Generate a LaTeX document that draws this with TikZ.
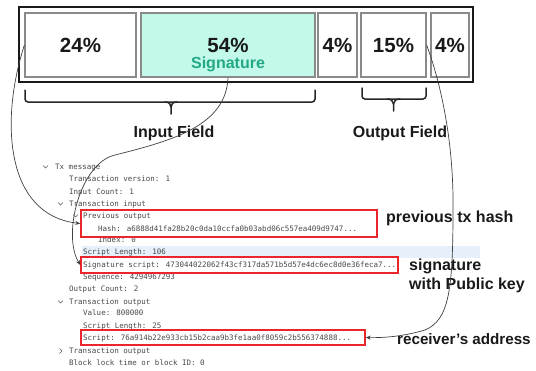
\documentclass[tikz,border=0pt]{standalone}
\usepackage{fontspec}
\setmainfont{Liberation Sans}
\newfontfamily\monof{DejaVu Sans Mono}
\usetikzlibrary{arrows.meta}
\definecolor{mint}{HTML}{C2F9EB}
\definecolor{tealtxt}{HTML}{22A884}
\definecolor{boxgray}{HTML}{8A8A8A}
\definecolor{boxred}{HTML}{E8262B}
\definecolor{hilite}{HTML}{E6F0FA}
\begin{document}
\begin{tikzpicture}[x=1pt,y=-1pt,
  pbox/.style={draw=boxgray, line width=1.2pt, inner sep=0, minimum height=64pt},
  pct/.style={font=\bfseries\fontsize{20.5}{22}\selectfont, text=black!90},
  lbl/.style={font=\bfseries\fontsize{16}{19}\selectfont, text=black!90, inner sep=0},
  mono/.style={font=\monof\fontsize{7.5}{9}\selectfont, text=black!72, anchor=west, inner sep=0, text height=5.6pt, text depth=1.6pt},
  redbox/.style={draw=boxred, line width=1.4pt, inner sep=0},
  link/.style={draw=black!75, line width=0.7pt},
  tip/.style={-{Stealth[length=5pt,width=4pt]}},
  bracepath/.style={draw=black!85, line width=1.5pt, rounded corners=3pt, line cap=round},
  bracetip/.style={draw=black!85, line width=1.5pt, line cap=round},
  chev/.style={draw=black!65, line width=0.6pt}
]
\useasboundingbox (0,0) rectangle (536,370);

% top bar
\node[draw=black!90, line width=1.3pt, minimum width=454pt, minimum height=75pt, inner sep=0] (outer) at (246,44.5) {};
\node[pbox, pct, minimum width=111pt] (b24) at (80.5,45) {24\%};
\node[pbox, fill=mint, minimum width=174pt] (b54) at (228,45) {};
\node[pct] (t54) at (228,45.5) {54\%};
\node[font=\bfseries\fontsize{16}{18}\selectfont, text=tealtxt, inner sep=0] (tsig) at (228,64) {Signature};
\node[pbox, pct, minimum width=39pt] (b4a) at (337.5,45) {4\%};
\node[pbox, pct, minimum width=65pt] (b15) at (393.5,45) {15\%};
\node[pbox, pct, minimum width=38pt] (b4b) at (450,45) {4\%};

% braces
\draw[bracepath] (25,90) -- (25,102) -- (315,102) -- (315,90);
\draw[bracetip] (165,102) .. controls (169,102) and (171,104) .. (171,107) -- (171,114);
\draw[bracetip] (177,102) .. controls (173,102) and (171,104) .. (171,107);
\draw[bracepath] (362,88) -- (362,99) -- (426,99) -- (426,88);
\draw[bracetip] (387,99) .. controls (391,99) and (393.5,101) .. (393.5,104) -- (393.5,111);
\draw[bracetip] (400,99) .. controls (396,99) and (393.5,101) .. (393.5,104);

\node[lbl] (infield) at (174,133) {Input Field};
\node[lbl] (outfield) at (400,133) {Output Field};

% highlight band
\fill[hilite] (82,246) rectangle (480,258);

% listing
\node[mono] (l1) at (55,167) {Tx message};
\node[mono] (l2) at (69,179) {Transaction version: 1};
\node[mono] (l3) at (69,192) {Input Count: 1};
\node[mono] (l4) at (69,204) {Transaction input};
\node[mono] (l5) at (83,216) {Previous output};
\node[mono] (l6) at (98,229) {Hash: a6888d41fa28b20c0da10ccfa0b03abd06c557ea409d9747...};
\node[mono] (l7) at (98,240) {Index: 0};
\node[mono] (l8) at (83,252) {Script Length: 106};
\node[mono] (l9) at (83,265) {Signature script: 473044022062f43cf317da571b5d57e4dc6ec8d0e36feca7...};
\node[mono] (l10) at (83,277) {Sequence: 4294967293};
\node[mono] (l11) at (69,289) {Output Count: 2};
\node[mono] (l12) at (69,302) {Transaction output};
\node[mono] (l13) at (83,313) {Value: 800000};
\node[mono] (l14) at (83,326) {Script Length: 25};
\node[mono] (l15) at (83,338) {Script: 76a914b22e933cb15b2caa9b3fe1aa0f8059c2b556374888...};
\node[mono] (l16) at (69,351) {Transaction output};
\node[mono] (l17) at (69,363) {Block lock time or block ID: 0};

% chevrons
\draw[chev] (43,165.5) -- (45.5,168) -- (48,165.5);
\draw[chev] (58,202.5) -- (60.5,205) -- (63,202.5);
\draw[chev] (73,214.5) -- (75.5,217) -- (78,214.5);
\draw[chev] (58,300.5) -- (60.5,303) -- (63,300.5);
\draw[chev] (59.5,348.5) -- (62,351) -- (59.5,353.5);

% red boxes
\node[redbox, minimum width=296pt, minimum height=27pt] (rb1) at (229,223.5) {};
\node[redbox, minimum width=317pt, minimum height=16pt] (rb2) at (239.5,265) {};
\node[redbox, minimum width=284pt, minimum height=15pt] (rb3) at (223,337.5) {};

% right labels
\node[lbl, anchor=west] (lprev) at (386,218) {previous tx hash};
\node[lbl, anchor=west, align=left] (lsig) at (409,276) {signature\\with Public key};
\node[lbl, anchor=west, font=\bfseries\fontsize{15.2}{18}\selectfont] (lrecv) at (397,339) {receiver’s address};

% connectors
\draw[link, tip] (b24.west) .. controls (0,120) and (5,215) .. (rb1.west);
\draw[link, tip] (b54.south) .. controls (226,125) and (175,140) .. (115,155)
   .. controls (80,163) and (62,235) .. (rb2.west);
\draw[link, tip] (b15.east) .. controls (436,70) and (454,130) .. (453,210)
   .. controls (453,290) and (449,320) .. (425,330)
   .. controls (405,336) and (385,338) .. (rb3.east);
\end{tikzpicture}
\end{document}
